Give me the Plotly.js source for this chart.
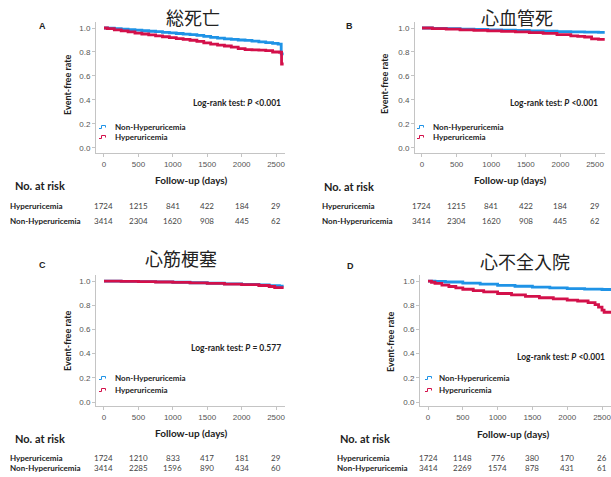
<!DOCTYPE html>
<html>
<head>
<meta charset="utf-8">
<script src="https://cdn.plot.ly/plotly-3.0.1.min.js"></script>
<style>html,body{margin:0;padding:0;background:#fff}#chart{width:611px;height:477px}</style>
</head>
<body>
<div id="chart"></div>
<script>
// ---------------- DATA ----------------
const panelTitles = ["総死亡", "心血管死", "心筋梗塞", "心不全入院"];
const panelLetters = ["A", "B", "C", "D"];
const pValues = ["Log-rank test: <i>P</i> &lt;0.001", "Log-rank test: <i>P</i> &lt;0.001", "Log-rank test: <i>P</i> = 0.577", "Log-rank test: <i>P</i> &lt;0.001"];
const seriesNames = ["Non-Hyperuricemia", "Hyperuricemia"];
const riskRowNames = ["Hyperuricemia", "Non-Hyperuricemia"];
const xTicks = [0, 500, 1000, 1500, 2000, 2500];
const yTicks = [0.0, 0.2, 0.4, 0.6, 0.8, 1.0];

// Panel A: all-cause death
const aNonT = [0,50,150,250,350,450,550,650,750,850,950,1050,1150,1250,1350,1450,1550,1650,1750,1850,1950,2050,2150,2250,2350,2450,2530,2575,2610];
const aNonS = [1.000,0.998,0.994,0.990,0.986,0.982,0.977,0.973,0.969,0.964,0.959,0.954,0.949,0.944,0.938,0.930,0.922,0.916,0.910,0.905,0.900,0.896,0.890,0.884,0.878,0.872,0.866,0.785,0.785];
const aHypT = [0,50,150,250,350,450,550,650,750,850,950,1050,1150,1250,1350,1450,1550,1650,1750,1850,1950,2050,2150,2250,2350,2450,2550,2580,2610];
const aHypS = [1.000,0.995,0.985,0.976,0.967,0.958,0.950,0.942,0.934,0.927,0.920,0.912,0.905,0.898,0.888,0.876,0.866,0.858,0.850,0.840,0.828,0.820,0.818,0.816,0.812,0.800,0.798,0.700,0.700];
// Panel B: cardiovascular death
const bNonT = [0,150,350,550,750,950,1150,1350,1550,1750,1950,2150,2350,2550,2640];
const bNonS = [1.000,0.997,0.994,0.991,0.988,0.985,0.982,0.979,0.976,0.973,0.970,0.968,0.966,0.964,0.964];
const bHypT = [0,150,350,550,750,950,1150,1350,1550,1750,1950,2150,2250,2350,2450,2550,2640];
const bHypS = [1.000,0.995,0.990,0.985,0.980,0.976,0.972,0.968,0.962,0.955,0.945,0.935,0.930,0.925,0.910,0.905,0.905];
// Panel C: myocardial infarction
const cNonT = [0,250,500,750,1000,1250,1500,1750,2000,2250,2400,2550,2610];
const cNonS = [1.000,0.998,0.996,0.993,0.990,0.986,0.982,0.977,0.973,0.968,0.962,0.958,0.958];
const cHypT = [0,250,500,750,1000,1250,1500,1750,2000,2250,2400,2480,2560,2610];
const cHypS = [1.000,0.998,0.995,0.992,0.989,0.985,0.980,0.975,0.970,0.963,0.955,0.945,0.945,0.945];
// Panel D: heart failure hospitalization
const dNonT = [0,100,250,500,750,1000,1250,1500,1750,2000,2250,2500,2640];
const dNonS = [1.000,0.997,0.992,0.983,0.974,0.965,0.957,0.949,0.943,0.938,0.934,0.930,0.928];
const dHypT = [0,50,100,200,300,400,500,650,800,1000,1200,1400,1600,1800,2000,2150,2300,2400,2450,2500,2530,2640];
const dHypS = [1.000,0.990,0.980,0.966,0.955,0.943,0.932,0.920,0.910,0.897,0.885,0.873,0.862,0.852,0.842,0.835,0.822,0.805,0.785,0.760,0.742,0.742];

// Numbers at risk (rows: Hyperuricemia, Non-Hyperuricemia)
const riskA_hyp = [1724,1215,841,422,184,29];
const riskA_non = [3414,2304,1620,908,445,62];
const riskB_hyp = [1724,1215,841,422,184,29];
const riskB_non = [3414,2304,1620,908,445,62];
const riskC_hyp = [1724,1210,833,417,181,29];
const riskC_non = [3414,2285,1596,890,434,60];
const riskD_hyp = [1724,1148,776,380,170,26];
const riskD_non = [3414,2269,1574,878,431,61];

// ---------------- LAYOUT ----------------
const W = 611, H = 477;
const BLUE = "#1f93e6", RED = "#d3104a";
const TXT = "#222";
const px = x => x / W;
const py = y => 1 - y / H;

const curves = [[aNonT,aNonS,aHypT,aHypS],[bNonT,bNonS,bHypT,bHypS],[cNonT,cNonS,cHypT,cHypS],[dNonT,dNonS,dHypT,dHypS]];
const risks = [[riskA_hyp,riskA_non],[riskB_hyp,riskB_non],[riskC_hyp,riskC_non],[riskD_hyp,riskD_non]];

// geometry per panel (pixels)
const geo = [
  {l:96, r:285, t:22, b:153, xr:[-116,2630], yr:[-0.042,1.05], title:[193,17], letter:[42,26], ytitle:[67,85],
   logrank:[283,103], leg:[113,127,137], glyph:99, follow:[191,180], noRisk:[13,185], rowX:8, rows:[206,221]},
  {l:415, r:605, t:22, b:153, xr:[-101,2644], yr:[-0.042,1.05], title:[517,17], letter:[349,26], ytitle:[385,84],
   logrank:[600,103], leg:[431,127,137], glyph:417, follow:[510,180], noRisk:[322,186], rowX:320, rows:[206,221]},
  {l:96, r:285, t:275, b:406, xr:[-116,2630], yr:[-0.033,1.05], title:[181,258], letter:[42,265], ytitle:[67,341],
   logrank:[283,348], leg:[113,378,390], glyph:99, follow:[191,433], noRisk:[13,438], rowX:8, rows:[458,468]},
  {l:420, r:611, t:275, b:406, xr:[-115,2629], yr:[-0.033,1.05], title:[525,261], letter:[350,266], ytitle:[390,342],
   logrank:[607,357], leg:[437,378,390], glyph:425, follow:[513,434], noRisk:[338,438], rowX:335, rows:[458,468]}
];

const data = [];
const layout = {
  width: W, height: H, margin: {l:0, r:0, t:0, b:0},
  paper_bgcolor: "#fff", plot_bgcolor: "#fff",
  showlegend: false,
  font: {family: "Liberation Sans, Arial, sans-serif", color: TXT},
  annotations: [], shapes: []
};

function ann(text, x, y, o) {
  o = o || {};
  layout.annotations.push(Object.assign({
    text: text, x: px(x), y: py(y), xref: "paper", yref: "paper",
    showarrow: false, xanchor: "left", yanchor: "middle",
    font: {family: "Lato, sans-serif", size: 8, color: TXT}
  }, o));
}

geo.forEach((g, i) => {
  const sfx = i === 0 ? "" : String(i + 1);
  const xa = "x" + sfx, ya = "y" + sfx;
  const c = curves[i];
  data.push({x: c[0], y: c[1], xaxis: xa, yaxis: ya, type: "scatter", mode: "lines",
    line: {shape: "hv", color: BLUE, width: 2.8}, name: seriesNames[0], hoverinfo: "skip"});
  data.push({x: c[2], y: c[3], xaxis: xa, yaxis: ya, type: "scatter", mode: "lines",
    line: {shape: "hv", color: RED, width: 2.8}, name: seriesNames[1], hoverinfo: "skip"});

  layout["xaxis" + sfx] = {
    domain: [px(g.l), px(g.r)], range: g.xr, anchor: ya,
    showline: true, linecolor: "#c4c4c4", linewidth: 1, mirror: false,
    ticks: "outside", ticklen: 3, tickcolor: "#c4c4c4",
    tickvals: xTicks, showgrid: false, zeroline: false, ticklabeloverflow: "allow",
    tickfont: {family: "Liberation Sans, Arial, sans-serif", size: 8, color: "#555"}
  };
  layout["yaxis" + sfx] = {
    domain: [py(g.b), py(g.t)], range: g.yr, anchor: xa,
    showline: true, linecolor: "#c4c4c4", linewidth: 1, mirror: false,
    ticks: "outside", ticklen: 3, tickcolor: "#c4c4c4",
    tickvals: yTicks, tickformat: ".1f", showgrid: false, zeroline: false,
    tickfont: {family: "Liberation Sans, Arial, sans-serif", size: 8, color: "#555"}
  };

  // titles and labels
  ann(panelTitles[i], g.title[0], g.title[1], {xanchor: "center",
    font: {family: "Noto Sans CJK JP, sans-serif", size: 18, color: TXT}});
  ann("<b>" + panelLetters[i] + "</b>", g.letter[0], g.letter[1], {xanchor: "center",
    font: {family: "Liberation Sans, Arial, sans-serif", size: 9, color: TXT}});
  ann("<b>Event-free rate</b>", g.ytitle[0], g.ytitle[1], {xanchor: "center", textangle: -90,
    font: {family: "Lato, sans-serif", size: 9, color: TXT}});
  ann("<b>" + pValues[i] + "</b>", g.logrank[0], g.logrank[1], {xanchor: "right",
    font: {family: "Lato, sans-serif", size: 8.5, color: TXT}});
  // legend
  ann("<b>" + seriesNames[0] + "</b>", g.leg[0], g.leg[1], {font: {family: "Lato, sans-serif", size: 8, color: TXT}});
  ann("<b>" + seriesNames[1] + "</b>", g.leg[0], g.leg[2], {font: {family: "Lato, sans-serif", size: 8, color: TXT}});
  [[g.leg[1], BLUE], [g.leg[2], RED]].forEach(([yy, col]) => {
    const x0 = g.glyph;
    const p = "M" + px(x0) + "," + py(yy + 1.5) + " L" + px(x0 + 2.5) + "," + py(yy + 1.5) +
      " L" + px(x0 + 2.5) + "," + py(yy - 1.5) + " L" + px(x0 + 6.5) + "," + py(yy - 1.5) +
      " L" + px(x0 + 6.5) + "," + py(yy + 0.5);
    layout.shapes.push({type: "path", path: p, xref: "paper", yref: "paper",
      line: {color: col, width: 1}});
  });
  // risk table
  ann("<b>Follow-up (days)</b>", g.follow[0], g.follow[1], {xanchor: "center",
    font: {family: "Lato, sans-serif", size: 10, color: TXT}});
  ann("<b>No. at risk</b>", g.noRisk[0], g.noRisk[1], {
    font: {family: "Lato, sans-serif", size: 11, color: TXT}});
  riskRowNames.forEach((nm, r) => {
    ann("<b>" + nm + "</b>", g.rowX, g.rows[r], {font: {family: "Lato, sans-serif", size: 8, color: TXT}});
    risks[i][r].forEach((v, k) => {
      layout.annotations.push({text: String(v), x: xTicks[k], xref: xa, y: py(g.rows[r]), yref: "paper",
        showarrow: false, xanchor: "center", yanchor: "middle",
        font: {family: "Lato, sans-serif", size: 8, color: "#444"}});
    });
  });
});

Plotly.newPlot("chart", data, layout, {staticPlot: true, displayModeBar: false});
</script>
</body>
</html>
